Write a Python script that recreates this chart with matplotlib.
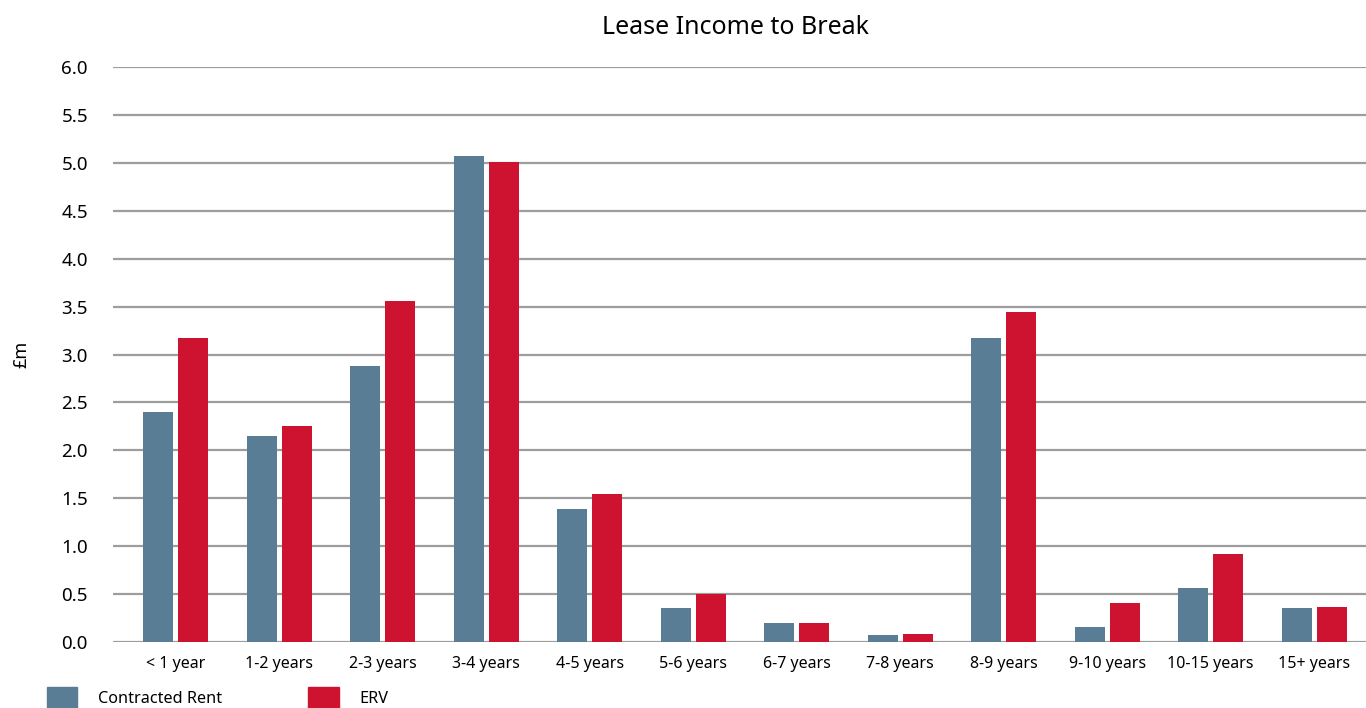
import numpy as np
import matplotlib
matplotlib.use('Agg')
import matplotlib.pyplot as plt
from matplotlib.patches import Patch

plt.rcParams['font.family'] = ['Noto Sans', 'DejaVu Sans']

CATEGORIES = ['< 1 year', '1-2 years', '2-3 years', '3-4 years', '4-5 years', '5-6 years',
              '6-7 years', '7-8 years', '8-9 years', '9-10 years', '10-15 years', '15+ years']
CONTRACTED = [2.40, 2.15, 2.88, 5.07, 1.39, 0.355, 0.20, 0.073, 3.17, 0.157, 0.56, 0.355]
ERV = [3.17, 2.25, 3.56, 5.01, 1.54, 0.50, 0.20, 0.083, 3.44, 0.41, 0.92, 0.365]
YTICKS = np.arange(0, 6.01, 0.5)

C_BLUE = '#5a7d96'
C_RED = '#cd132f'
C_GRID = '#9d9d9d'

fig = plt.figure(figsize=(13.66, 7.08), dpi=100)
ax = fig.add_axes([113 / 1366, 66 / 708, 1253 / 1366, 575 / 708])

x = np.arange(len(CATEGORIES))
w = 0.29
off = 0.169
ax.bar(x - off, CONTRACTED, w, color=C_BLUE, zorder=3)
ax.bar(x + off, ERV, w, color=C_RED, zorder=3)

ax.set_xlim(-0.604, 11.5)
ax.set_ylim(0, 6.0)
ax.set_yticks(YTICKS)
ax.set_yticklabels([f'{v:.1f}' for v in YTICKS], fontsize=13.5)
ax.set_xticks(x)
ax.set_xticklabels(CATEGORIES, fontsize=11.5)
ax.tick_params(axis='y', length=0, pad=18)
ax.tick_params(axis='x', length=0, pad=10)
for s in ax.spines.values():
    s.set_visible(False)
ax.yaxis.grid(True, color=C_GRID, lw=1.6, zorder=1)
ax.set_axisbelow(True)

ax.set_ylabel('£m', fontsize=13)
ax.yaxis.set_label_coords(-0.066, 0.5)

fig.text(736 / 1366, 1 - 27 / 708, 'Lease Income to Break', ha='center', va='center',
         fontsize=18)

handles = [Patch(color=C_BLUE, label='Contracted Rent'), Patch(color=C_RED, label='ERV')]
fig.legend(handles=handles, loc='center left', bbox_to_anchor=(47 / 1366, 10 / 708),
           ncol=2, frameon=False, fontsize=11.7, handlelength=1.85, handleheight=1.7,
           handletextpad=1.3, columnspacing=5.3, borderpad=0, borderaxespad=0)

fig.savefig('out.png', dpi=100)
